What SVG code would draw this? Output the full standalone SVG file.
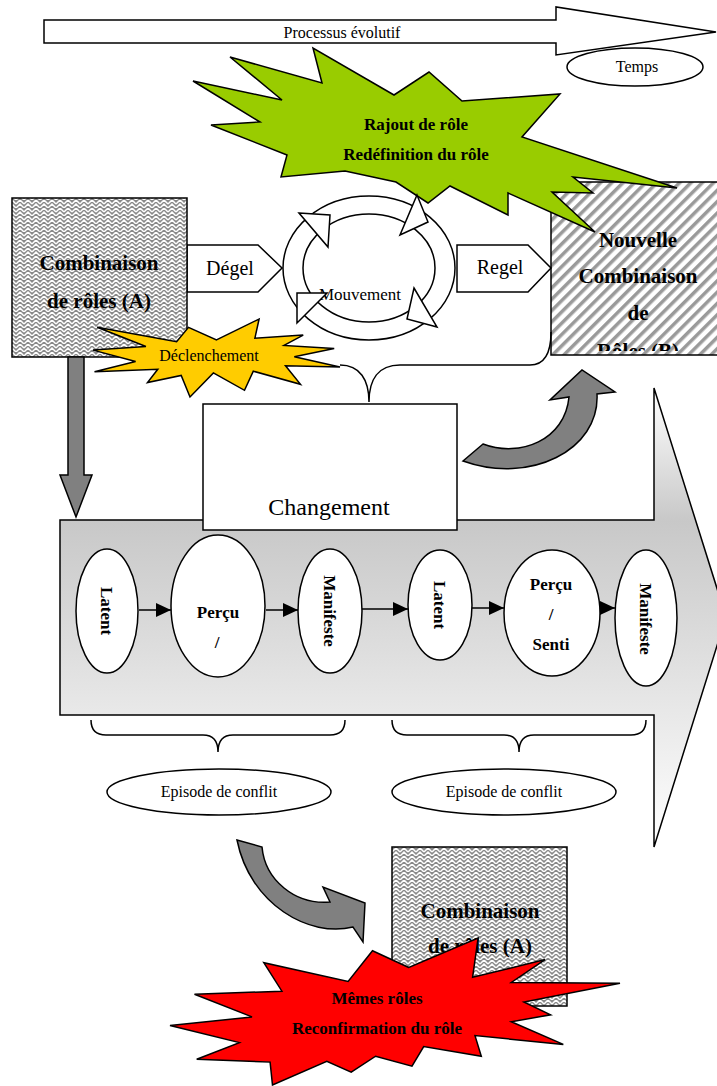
<svg xmlns="http://www.w3.org/2000/svg" width="717" height="1086" viewBox="0 0 717 1086">
<defs>
<style>
text{font-family:"Liberation Serif","Times New Roman",serif;fill:#000}
.b{font-weight:bold}
.c{text-anchor:middle}
.ln{stroke:#000;stroke-width:1.5;fill:none}
.w{fill:#fff;stroke:#000;stroke-width:1.5}
.g{fill:#808080;stroke:#000;stroke-width:1.5}
.st{stroke:#000;stroke-width:1.5}
</style>
<pattern id="weave" width="8" height="8" patternUnits="userSpaceOnUse">
<rect width="8" height="8" fill="#8a8a8a"/>
<path d="M0,4 L4,0 L8,4 M0,8 L4,4 L8,8" fill="none" stroke="#fff" stroke-width="1.5"/>
</pattern>
<pattern id="stripes" width="8" height="8" patternUnits="userSpaceOnUse" patternTransform="rotate(45)">
<rect width="8" height="8" fill="#fff"/>
<rect width="3.5" height="8" fill="#9a9a9a"/>
</pattern>
<linearGradient id="grad" gradientUnits="userSpaceOnUse" x1="0" y1="388" x2="0" y2="847">
<stop offset="0" stop-color="#ffffff"/>
<stop offset="0.29" stop-color="#c8c8c8"/>
<stop offset="1" stop-color="#ffffff"/>
</linearGradient>
<marker id="ah" viewBox="0 0 15 14" refX="15" refY="7" markerWidth="15" markerHeight="14" markerUnits="userSpaceOnUse" orient="auto">
<path d="M0,0 L15,7 L0,14 Z" fill="#000"/>
</marker>
<clipPath id="clipB"><rect x="551" y="182" width="180" height="169"/></clipPath>
</defs>

<g id="processus">
<path class="w" d="M44,20 L556,20 L556,7 L716,32 L556,55 L556,43 L44,43 Z"/>
<text class="c" x="342" y="38" font-size="16">Processus évolutif</text>
</g>
<g id="temps">
<ellipse class="w" cx="635" cy="67" rx="68" ry="19"/>
<text class="c" x="637" y="72" font-size="16">Temps</text>
</g>

<g id="nouvelle">
<rect x="551" y="182" width="180" height="173" fill="url(#stripes)" class="st"/>
<g clip-path="url(#clipB)" class="b" font-size="21">
<text class="c" x="638" y="247">Nouvelle</text>
<text class="c" x="638" y="283">Combinaison</text>
<text class="c" x="638" y="320">de</text>
<text class="c" x="638" y="358">Rôles (B)</text>
</g>
</g>

<g id="rajout">
<polygon fill="#99cc00" class="st" points="193,81 282,100 230,57 322,83 313,48 394,95 429,72 462,101 560,94 522,137 677,188 573,177 593,193 552,192 595,232 508,193 508,215 450,186 428,203 396,182 345,171 281,177 287,155 211,125 260,122"/>
<text class="c b" x="416" y="130" font-size="17">Rajout de rôle</text>
<text class="c b" x="416" y="160" font-size="17">Redéfinition du rôle</text>
</g>

<g id="degel">
<path class="w" d="M187,245 L258,245 L282,268 L258,292 L187,292 Z"/>
<text class="c" x="230" y="275" font-size="20">Dégel</text>
</g>
<g id="regel">
<path class="w" d="M457,245 L528,245 L551,268 L528,292 L457,292 Z"/>
<text class="c" x="500" y="274" font-size="20">Regel</text>
</g>

<g id="mouvement">
<ellipse class="w" cx="369" cy="268" rx="86" ry="72"/>
<ellipse class="w" cx="369" cy="268" rx="66" ry="54"/>
<text class="c" x="360" y="300" font-size="17">Mouvement</text>
<polygon class="w" points="299,213 330,215 328,247"/>
<polygon class="w" points="417,195 428,222 400,235"/>
<polygon class="w" points="297,293 327,293 297,323"/>
<polygon class="w" points="414,288 437,327 407,319"/>
</g>

<g id="combinaisonA">
<rect x="12" y="198" width="175" height="159" fill="url(#weave)" class="st"/>
<text class="c b" x="99" y="270" font-size="21">Combinaison</text>
<text class="c b" x="99" y="308" font-size="21">de rôles (A)</text>
</g>

<g id="declenchement">
<polygon fill="#ffcc00" class="st" points="216.5,339.9 259.1,319 254.9,338.2 303.2,335.1 284,345.4 334.2,348.4 294.3,356.8 340,367 285.5,365.7 300.5,384.3 253.3,371.2 244.5,390.3 213.4,372.9 190,397 181.2,375.4 147.5,382.6 157.8,369.3 94.5,371.7 135.6,361.5 93,350.1 145.9,346.5 97.2,327.3 176.6,341.8 188.5,327.3"/>
<text class="c" x="209" y="361" font-size="16">Déclenchement</text>
</g>

<g id="connectors">
<path class="ln" d="M340,365 C360,365 369,380 369,402 C369,380 378,365 400,365 L530,365 C545,365 551,352 551,332"/>
<path class="g" d="M68,357 L84,357 L84,475 L92,475 L76,517 L60,475 L68,475 Z"/>
</g>

<g id="processArrow">
<path d="M60,520 L654,520 L654,388 L726,617 L654,847 L654,715 L60,715 Z" fill="url(#grad)" class="st"/>
</g>

<g id="changement">
<rect class="w" x="203" y="404" width="254" height="126"/>
<text class="c" x="329" y="515" font-size="24">Changement</text>
</g>

<g id="arrows" class="ln">
<line x1="139" y1="610" x2="171" y2="610" marker-end="url(#ah)"/>
<line x1="266" y1="610" x2="298" y2="610" marker-end="url(#ah)"/>
<line x1="362" y1="609" x2="408" y2="609" marker-end="url(#ah)"/>
<line x1="472" y1="608" x2="504" y2="608" marker-end="url(#ah)"/>
<line x1="598" y1="608" x2="615" y2="608" marker-end="url(#ah)"/>
</g>

<g id="latent1">
<ellipse class="w" cx="107" cy="611" rx="31" ry="62"/>
<text class="c b" font-size="17" transform="translate(101,611) rotate(90)">Latent</text>
</g>
<g id="percu1">
<ellipse class="w" cx="218" cy="606" rx="47" ry="71"/>
<text class="c b" x="218" y="618" font-size="17">Perçu</text>
<text class="c b" x="217" y="648" font-size="17">/</text>
</g>
<g id="manifeste1">
<ellipse class="w" cx="330" cy="611" rx="32" ry="62"/>
<text class="c b" font-size="17" transform="translate(324,611) rotate(90)">Manifeste</text>
</g>
<g id="latent2">
<ellipse class="w" cx="440" cy="605" rx="32" ry="55"/>
<text class="c b" font-size="17" transform="translate(434,605) rotate(90)">Latent</text>
</g>
<g id="percu2">
<ellipse class="w" cx="552" cy="613" rx="48" ry="63"/>
<text class="c b" x="551" y="590" font-size="17">Perçu</text>
<text class="c b" x="551" y="620" font-size="17">/</text>
<text class="c b" x="551" y="650" font-size="17">Senti</text>
</g>
<g id="manifeste2">
<ellipse class="w" cx="646" cy="618" rx="31" ry="68"/>
<text class="c b" font-size="17" transform="translate(640,619) rotate(90)">Manifeste</text>
</g>

<g id="braces" class="ln">
<path d="M91,720 Q91,735 106,735 L203,735 Q218,735 218,752 Q218,735 233,735 L330,735 Q345,735 345,720"/>
<path d="M392,720 Q392,735 407,735 L504,735 Q519,735 519,752 Q519,735 534,735 L631,735 Q646,735 646,720"/>
</g>

<g id="episode1">
<ellipse class="w" cx="219" cy="792" rx="112" ry="23"/>
<text class="c" x="219" y="797" font-size="16">Episode de conflit</text>
</g>
<g id="episode2">
<ellipse class="w" cx="504" cy="792" rx="112" ry="23"/>
<text class="c" x="504" y="797" font-size="16">Episode de conflit</text>
</g>

<g id="curvedUp">
<path class="g" d="M463,461 L483,444 C520,458 565,440 569,397 L550,400 L582,370 L615,392 L597,394 C600,450 530,485 463,461 Z"/>
</g>
<g id="curvedDown">
<path class="g" d="M237,840 L262,847 C265,880 295,905 330,902 L323,887 L365,903 L363,942 L353,927 C310,938 250,905 237,840 Z"/>
</g>

<g id="combinaisonA2">
<rect x="392" y="847" width="175" height="159" fill="url(#weave)" class="st"/>
<text class="c b" x="480" y="918" font-size="21">Combinaison</text>
<text class="c b" x="480" y="953" font-size="21">de rôles (A)</text>
</g>

<g id="memes">
<polygon fill="#ff0000" class="st" points="408.8,967.5 372.5,950.8 348.1,981.4 263.8,962.7 281.9,991.2 194.5,994.3 252,1016.9 170,1025.6 239.4,1042.6 196.7,1059.3 270.1,1062.1 272.5,1085 326.8,1061.4 351.2,1072.2 375.6,1056.2 412,1066.2 423.7,1046.5 481.3,1056.2 475,1035.6 563.3,1044.4 511.3,1021.8 550.6,1014.8 523.9,1002 620,983.2 511.3,982.5 545.1,959.6 472.6,977.3 478.1,938"/>
<text class="c b" x="377" y="1004" font-size="17">Mêmes rôles</text>
<text class="c b" x="377" y="1034" font-size="17">Reconfirmation du rôle</text>
</g>
</svg>
